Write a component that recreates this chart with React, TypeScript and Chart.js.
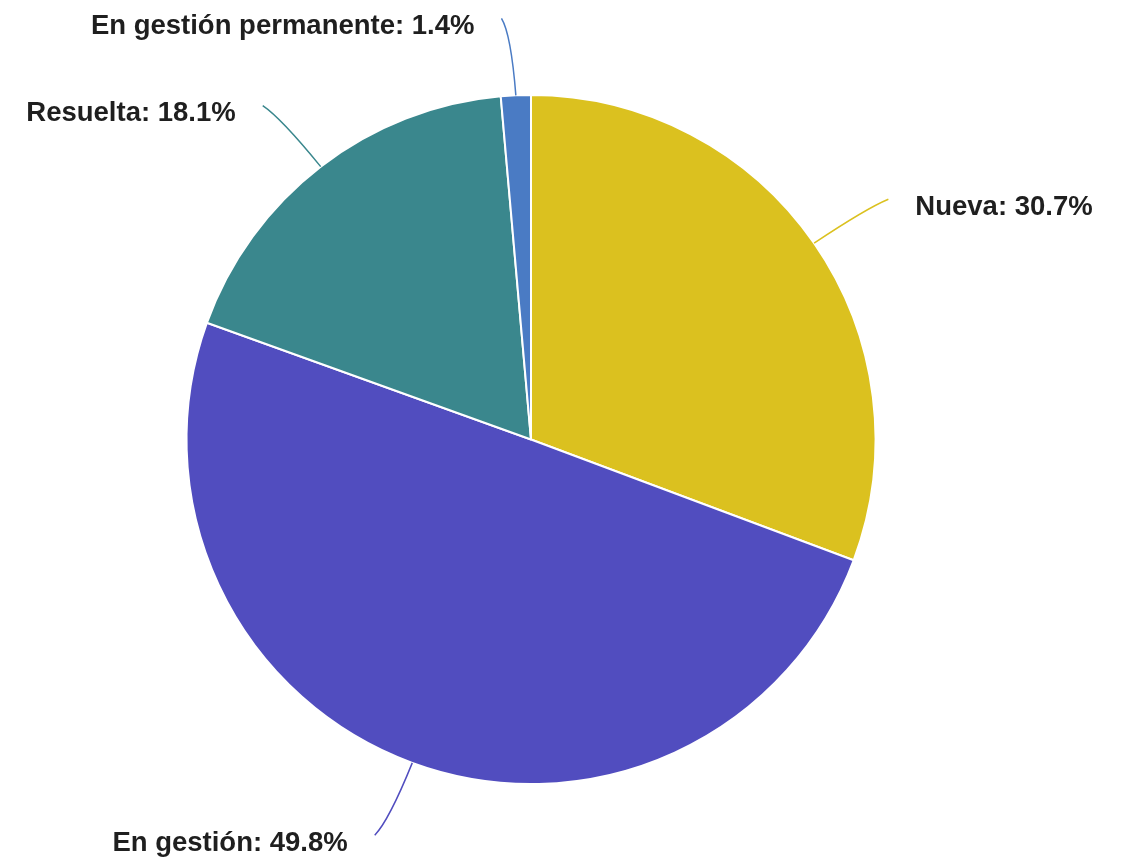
import React, { useEffect, useRef } from "react";
import { Chart, registerables } from "chart.js";

Chart.register(...registerables);

const categories = ["Nueva", "En gestión", "Resuelta", "En gestión permanente"];
const values = [30.7, 49.8, 18.1, 1.4];
const colors = ["#DBC11F", "#514DBF", "#3A878D", "#4A7BC4"];

const labelPlugin = {
  id: "curvedLabels",
  afterDatasetsDraw(chart: any) {
    const ctx = chart.ctx;
    const meta = chart.getDatasetMeta(0);
    const total = values.reduce((a, b) => a + b, 0);
    ctx.save();
    meta.data.forEach((arc: any, i: number) => {
      const { x, y, startAngle, endAngle, outerRadius } = arc.getProps(
        ["x", "y", "startAngle", "endAngle", "outerRadius"],
        true
      );
      const mid = (startAngle + endAngle) / 2;
      const c = Math.cos(mid);
      const s = Math.sin(mid);
      const R = outerRadius;
      const p0 = { x: x + R * c, y: y + R * s };
      const p1 = { x: x + (R + 77) * c, y: y + (R + 77) * s };
      const dir = c >= 0 ? 1 : -1;
      const p2 = { x: p1.x + dir * 11, y: p1.y };
      const cx = 0.6 * p1.x + 0.4 * (p0.x + p2.x) / 2;
      const cy = 0.6 * p1.y + 0.4 * (p0.y + p2.y) / 2;
      ctx.beginPath();
      ctx.moveTo(p0.x, p0.y);
      ctx.quadraticCurveTo(cx, cy, p2.x, p2.y);
      ctx.strokeStyle = colors[i];
      ctx.lineWidth = 1.5;
      ctx.stroke();
      const pct = ((values[i] / total) * 100).toFixed(1);
      const text = `${categories[i]}: ${pct}%`;
      ctx.font = "bold 27.5px 'Liberation Sans', Arial, sans-serif";
      ctx.fillStyle = "#1f1f1f";
      ctx.textBaseline = "middle";
      ctx.textAlign = dir > 0 ? "left" : "right";
      ctx.fillText(text, p2.x + dir * 27, p2.y + 8);
    });
    ctx.restore();
  },
};

export default function App() {
  const ref = useRef<HTMLCanvasElement | null>(null);
  useEffect(() => {
    if (!ref.current) return;
    const chart = new Chart(ref.current, {
      type: "pie",
      data: {
        labels: categories,
        datasets: [
          {
            data: values,
            backgroundColor: colors,
            borderColor: "#ffffff",
            borderWidth: 2,
          },
        ],
      },
      options: {
        responsive: false,
        animation: false,
        layout: { padding: { left: 185, right: 250, top: 94, bottom: 75 } },
        plugins: {
          legend: { display: false },
          tooltip: { enabled: false },
        },
      },
      plugins: [labelPlugin],
    });
    return () => chart.destroy();
  }, []);
  return (
    <div style={{ position: "fixed", left: 0, top: 0, width: 1127, height: 860, background: "#fff" }}>
      <canvas ref={ref} width={1127} height={860} style={{ width: 1127, height: 860 }} />
    </div>
  );
}
